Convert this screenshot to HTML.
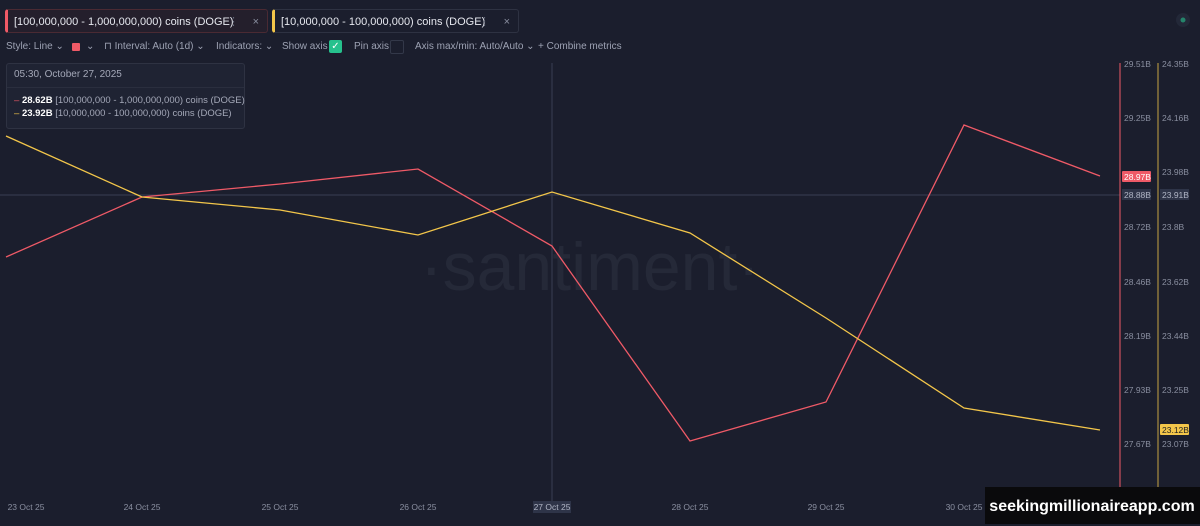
<!DOCTYPE html><html><head><meta charset="utf-8"><style>
body{margin:0;width:1200px;height:526px;background:#1b1e2d;font-family:"Liberation Sans",sans-serif;overflow:hidden;position:relative;color:#c9ccd8}
.tab{position:absolute;top:9px;height:24px;border:1px solid #2e3242;border-radius:3px;font-size:11px;color:#e6e8ef;line-height:24px;padding-left:6px;white-space:nowrap;box-sizing:border-box}
.tab .d{position:absolute;right:28px;color:#666b7c}.tab .x{position:absolute;right:8px;color:#8a8fa0}
.tb{position:absolute;top:41px;font-size:10px;color:#9da2b3;white-space:nowrap}
</style></head><body>
<div class="tab" style="left:5px;width:263px;border-color:#4a2a33;background:#241f2c;border-left:3px solid #ef5a67">[100,000,000 - 1,000,000,000) coins (DOGE)<span class="d">⋮</span><span class="x">×</span></div>
<div class="tab" style="left:272px;width:247px;border-left:3px solid #f3c64a">[10,000,000 - 100,000,000) coins (DOGE)<span class="d">⋮</span><span class="x">×</span></div>
<div class="tb" style="left:6px">Style: Line ⌄</div>
<div style="position:absolute;left:72px;top:43px;width:8px;height:8px;background:#ef5a67;border-radius:1px"></div>
<div class="tb" style="left:86px">⌄</div>
<div class="tb" style="left:104px">⊓ Interval: Auto (1d) ⌄</div>
<div class="tb" style="left:216px">Indicators: ⌄</div>
<div class="tb" style="left:282px">Show axis</div>
<div style="position:absolute;left:329px;top:40px;width:13px;height:13px;background:#26c18d;border-radius:2px;color:#fff;font-size:10px;text-align:center;line-height:13px">✓</div>
<div class="tb" style="left:354px">Pin axis</div>
<div style="position:absolute;left:390px;top:40px;width:12px;height:12px;border:1px solid #333849;border-radius:2px"></div>
<div class="tb" style="left:415px">Axis max/min: Auto/Auto ⌄</div>
<div class="tb" style="left:538px">+ Combine metrics</div>
<div style="position:absolute;left:6px;top:63px;width:237px;height:64px;background:#1f2333;border:1px solid #2e3242;border-radius:3px;white-space:nowrap">
<div style="height:23px;line-height:22px;font-size:10px;color:#a4a8b8;padding-left:7px;border-bottom:1px solid #2a2e3e">05:30, October 27, 2025</div>
<div style="font-size:9.5px;padding:6px 0 0 7px;line-height:13px;color:#a4a8b8"><span style="color:#ef5a67">–</span> <b style="color:#fff">28.62B</b> [100,000,000 - 1,000,000,000) coins (DOGE)<br><span style="color:#f3c64a">–</span> <b style="color:#fff">23.92B</b> [10,000,000 - 100,000,000) coins (DOGE)</div></div>
<svg width="1200" height="526" style="position:absolute;left:0;top:0;pointer-events:none">
<text x="590" y="290" font-size="68" fill="#252938" text-anchor="middle" font-family="Liberation Sans">·santiment·</text>
<line x1="552" y1="63" x2="552" y2="505" stroke="#3a3f52"/>
<line x1="0" y1="195" x2="1120" y2="195" stroke="#3a3f52"/>
<line x1="1120" y1="63" x2="1120" y2="512" stroke="#ef5a67" stroke-width="1"/>
<line x1="1158" y1="63" x2="1158" y2="512" stroke="#f3c64a" stroke-width="1" opacity=".8"/>
<polyline fill="none" stroke="#ef5a67" stroke-width="1.3" points="6,257 142,197 280,184 418,169 552,246 690,441 826,402 964,125 1100,176"/>
<polyline fill="none" stroke="#f3c64a" stroke-width="1.3" points="6,136 142,197 280,210 418,235 552,192 690,233 826,318 964,408 1100,430"/>
<g font-size="8.5" fill="#8a8fa0">
<text x="1124" y="67">29.51B</text><text x="1124" y="121">29.25B</text><text x="1124" y="230">28.72B</text><text x="1124" y="285">28.46B</text><text x="1124" y="339">28.19B</text><text x="1124" y="393">27.93B</text><text x="1124" y="447">27.67B</text>
<text x="1162" y="67">24.35B</text><text x="1162" y="121">24.16B</text><text x="1162" y="175">23.98B</text><text x="1162" y="230">23.8B</text><text x="1162" y="285">23.62B</text><text x="1162" y="339">23.44B</text><text x="1162" y="393">23.25B</text><text x="1162" y="447">23.07B</text>
</g>
<rect x="1122" y="171" width="29" height="11" fill="#ef5a67" rx="1"/><text x="1124" y="180" font-size="8.5" fill="#fff">28.97B</text>
<rect x="1122" y="189" width="29" height="11" fill="#2e3448"/><text x="1124" y="198" font-size="8.5" fill="#b0b5c5">28.88B</text>
<rect x="1160" y="189" width="29" height="11" fill="#2e3448"/><text x="1162" y="198" font-size="8.5" fill="#b0b5c5">23.91B</text>
<rect x="1160" y="424" width="29" height="11" fill="#f3c64a" rx="1"/><text x="1162" y="433" font-size="8.5" fill="#222">23.12B</text>
<g font-size="8.5" fill="#8a8fa0" text-anchor="middle">
<text x="26" y="510">23 Oct 25</text><text x="142" y="510">24 Oct 25</text><text x="280" y="510">25 Oct 25</text><text x="418" y="510">26 Oct 25</text><text x="690" y="510">28 Oct 25</text><text x="826" y="510">29 Oct 25</text><text x="964" y="510">30 Oct 25</text>
</g>
<rect x="533" y="501" width="38" height="12" fill="#2e3448"/><text x="552" y="510" font-size="8.5" fill="#b0b5c5" text-anchor="middle">27 Oct 25</text>
<rect x="985" y="487" width="215" height="37" fill="#0a0a0c"/>
<text x="1092" y="511" font-size="16" font-weight="bold" fill="#fff" text-anchor="middle">seekingmillionaireapp.com</text>
<circle cx="1183" cy="20" r="7" fill="#232838"/><circle cx="1183" cy="20" r="2.5" fill="#26c18d" opacity=".6"/>
</svg>
</body></html>
